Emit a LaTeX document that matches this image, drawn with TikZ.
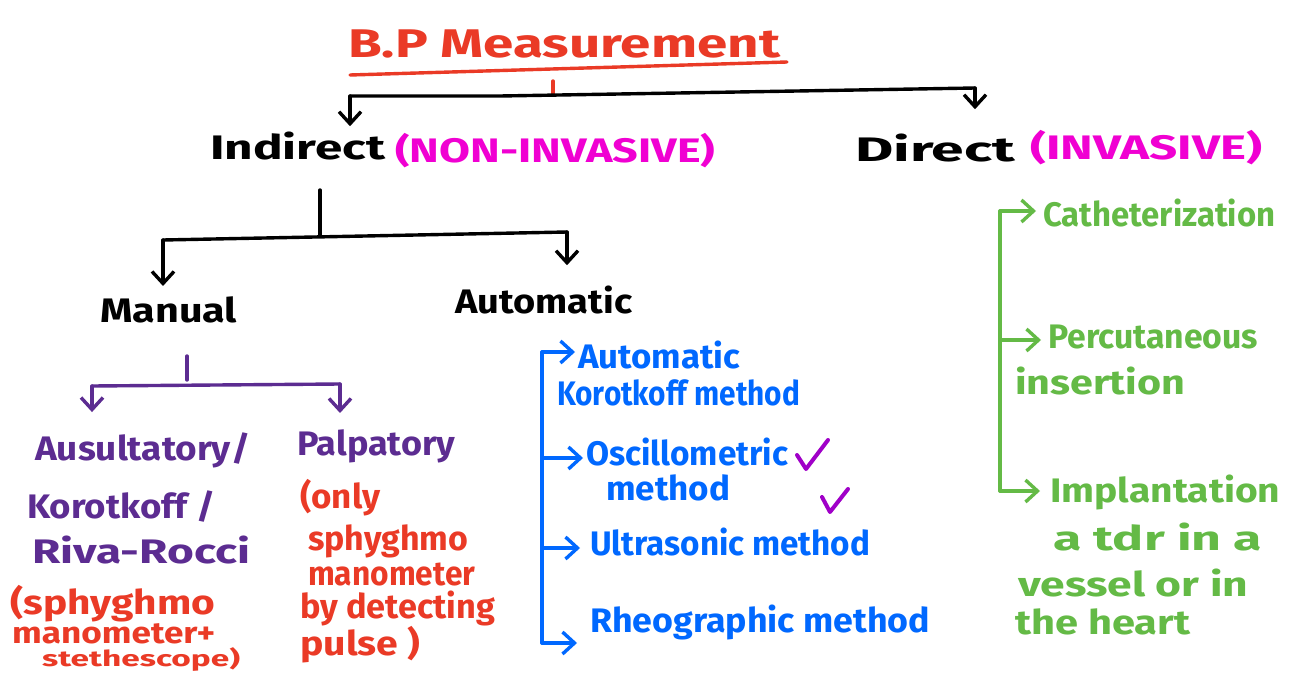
\documentclass[tikz,border=0pt]{standalone}
\usepackage{graphicx}
\usepackage{fontspec}
\setmainfont{Fira Sans}
\usetikzlibrary{arrows.meta}
\definecolor{cred}{RGB}{234,58,38}
\definecolor{cmag}{RGB}{240,0,210}
\definecolor{cpur}{RGB}{92,44,145}
\definecolor{cblue}{RGB}{0,104,255}
\definecolor{cgreen}{RGB}{100,186,70}
\definecolor{ccheck}{RGB}{160,0,200}
\newcommand\fitx[2]{\resizebox{#1pt}{\height}{#2}}
\tikzset{
  txt/.style={inner sep=0pt, anchor=base west, font=\bfseries\fontsize{34}{40}\selectfont},
  conn/.style={line width=3.4pt, line cap=round, line join=round},
  arr/.style={conn, -{Straight Barb[length=12pt,width=22pt,line width=3.4pt]}},
}
\begin{document}
\begin{tikzpicture}[x=1pt,y=-1pt]
\useasboundingbox[fill=white] (0,0) rectangle (1290,674);

% ---- title ----
\node[txt, font=\bfseries\fontsize{40}{46}\selectfont, text=cred] (title) at (348,58) {\fitx{432}{B.P Measurement}};
\coordinate (ulA) at (350,75);
\coordinate (ulB) at (787,62);
\draw[conn, cred] (ulA) -- (ulB);
\coordinate (tickT) at (553,81);
\coordinate (barM) at (553,94);
\draw[conn, cred] (tickT) -- (barM);

% ---- level 1 ----
\node[txt, text=black] (ind) at (210,160) {\fitx{175}{Indirect}};
\node[txt, text=cmag] (nonin) at (395,162) {\fitx{320}{(NON-INVASIVE)}};
\node[txt, text=black] (dir) at (855,162) {\fitx{160}{Direct}};
\node[txt, text=cmag] (inv) at (1030,160) {\fitx{232}{(INVASIVE)}};

\coordinate (barL) at (350,96);
\coordinate (barK) at (500,96);
\coordinate (barR) at (975,88);
\draw[conn] (barL) -- (barK) -- (barR);
\draw[arr] (barL) -- ([yshift=6pt]barL |- ind.north);
\draw[arr] (barR) -- ([yshift=25pt]barR |- dir.north);

% ---- level 2 (indirect) ----
\node[txt, text=black] (man) at (100,322) {\fitx{137}{Manual}};
\node[txt, text=black] (auto) at (455,313) {\fitx{177}{Automatic}};
\coordinate (indS) at (320,190);
\coordinate (indJ) at (320,236);
\coordinate (splL) at (163,240);
\coordinate (splR) at (567,232);
\draw[conn] (indS) -- (indJ);
\draw[conn] (splL) -- (splR);
\draw[arr] (splL) -- ([yshift=10pt]splL |- man.north);
\draw[arr] (splR) -- ([yshift=20pt]splR |- auto.north);

% ---- manual branch ----
\coordinate (manS) at (187,356);
\coordinate (manJ) at (187,380);
\coordinate (mL) at (92,386);
\coordinate (mR) at (340,384);
\draw[conn, cpur] (manS) -- (manJ);
\draw[conn, cpur] (mL) -- (mR);

\node[txt, text=cpur] (aus1) at (35,460) {\fitx{215}{Ausultatory/}};
\node[txt, text=cpur] (aus2) at (27,518) {\fitx{188}{Korotkoff /}};
\node[txt, text=cpur] (aus3) at (32,563) {\fitx{218}{Riva-Rocci}};
\node[txt, text=cred] (sph1) at (10,614) {\fitx{205}{(sphyghmo}};
\node[txt, text=cred, font=\bfseries\fontsize{30}{34}\selectfont] (sph2) at (12,643) {\fitx{203}{manometer+}};
\node[txt, text=cred, font=\bfseries\fontsize{22}{26}\selectfont] (sph3) at (42,666) {\fitx{198}{stethescope)}};

\node[txt, text=cpur] (pal) at (297,455) {\fitx{158}{Palpatory}};
\node[txt, text=cred] (pal1) at (300,508) {\fitx{80}{(only}};
\node[txt, text=cred] (pal2) at (308,550) {\fitx{160}{sphyghmo}};
\node[txt, text=cred] (pal3) at (308,585) {\fitx{167}{manometer}};
\node[txt, text=cred] (pal4) at (300,618) {\fitx{195}{by detecting}};
\node[txt, text=cred] (pal5) at (300,655) {\fitx{120}{pulse )}};

\draw[arr, cpur] (mL) -- ([yshift=20pt]mL |- aus1.north);
\draw[arr, cpur] (mR) -- ([yshift=16pt]mR |- pal.north);

% ---- automatic branch ----
\node[txt, text=cblue] (a1) at (578,368) {\fitx{162}{Automatic}};
\node[txt, text=cblue] (a1b) at (557,405) {\fitx{243}{Korotkoff method}};
\node[txt, text=cblue] (a2) at (586,465) {\fitx{202}{Oscillometric}};
\node[txt, text=cblue] (a2b) at (606,500) {\fitx{124}{method}};
\node[txt, text=cblue] (a3) at (590,555) {\fitx{280}{Ultrasonic method}};
\node[txt, text=cblue] (a4) at (590,632) {\fitx{340}{Rheographic method}};

\coordinate (bT) at (542,352);
\coordinate (b2) at (542,458);
\coordinate (b3) at (542,548);
\coordinate (bB) at (542,643);
\draw[conn, cblue] (bT) -- (bB);
\draw[arr, cblue] (bT) -- ([xshift=-3pt]a1.west |- bT);
\draw[arr, cblue] (b2) -- ([xshift=-3pt]a2.west |- b2);
\draw[arr, cblue] (b3) -- ([xshift=-10pt]a3.west |- b3);
\draw[arr, cblue] (bB) -- ([xshift=-13pt]a4.west |- bB);

% check marks
\coordinate (c1a) at (797,455);
\coordinate (c1b) at (806,469);
\coordinate (c1c) at (828,440);
\draw[conn, ccheck, line width=4pt] (c1a) -- (c1b) -- (c1c);
\coordinate (c2a) at (822,497);
\coordinate (c2b) at (830,512);
\coordinate (c2c) at (848,489);
\draw[conn, ccheck, line width=4pt] (c2a) -- (c2b) -- (c2c);

% ---- direct branch ----
\node[txt, text=cgreen] (d1) at (1043,226) {\fitx{232}{Catheterization}};
\node[txt, text=cgreen] (d2) at (1048,348) {\fitx{210}{Percutaneous}};
\node[txt, text=cgreen] (d2b) at (1015,394) {\fitx{170}{insertion}};
\node[txt, text=cgreen] (d3) at (1050,502) {\fitx{230}{Implantation}};
\node[txt, text=cgreen] (d3b) at (1053,550) {\fitx{209}{a tdr in a}};
\node[txt, text=cgreen] (d3c) at (1018,596) {\fitx{230}{vessel or in}};
\node[txt, text=cgreen] (d3d) at (1015,634) {\fitx{175}{the heart}};

\coordinate (gT) at (1000,211);
\coordinate (g2) at (1000,340);
\coordinate (gB) at (1000,491);
\draw[conn, cgreen] (gT) -- (gB);
\draw[arr, cgreen] (gT) -- ([xshift=-7pt]d1.west |- gT);
\draw[arr, cgreen] (g2) -- ([xshift=-7pt]d2.west |- g2);
\draw[arr, cgreen] (gB) -- ([xshift=-10pt]d3.west |- gB);
\end{tikzpicture}
\end{document}
